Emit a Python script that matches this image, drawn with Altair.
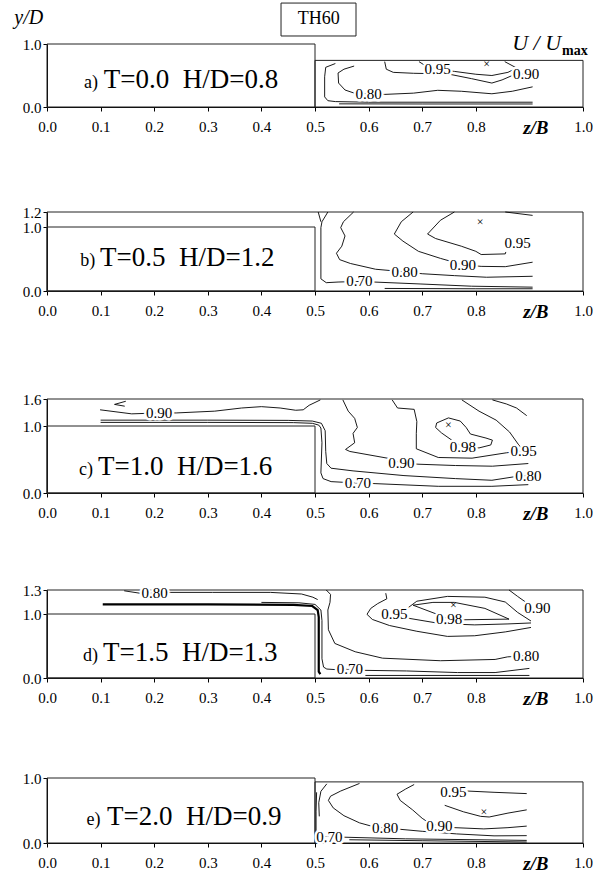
import altair as alt
import pandas as pd

SERIF = "Liberation Serif"

# ---------------- values ----------------
TAGS = ["a)", "b)", "c)", "d)", "e)"]
CASES = ["T=0.0\u00a0\u00a0H/D=0.8", "T=0.5\u00a0\u00a0H/D=1.2", "T=1.0\u00a0\u00a0H/D=1.6",
         "T=1.5\u00a0\u00a0H/D=1.3", "T=2.0\u00a0\u00a0H/D=0.9"]
Y_TOP = [1.0, 1.2, 1.6, 1.3, 1.0]
Y_TICKS = [[0.0, 1.0], [0.0, 1.0, 1.2], [0.0, 1.0, 1.6], [0.0, 1.0, 1.3], [0.0, 1.0]]
X_TICKS = [0.0, 0.1, 0.2, 0.3, 0.4, 0.5, 0.6, 0.7, 0.8, 1.0]
FRAME_Z0 = [0.5, 0.0, 0.0, 0.0, 0.5]
FRAME_TOP = [0.74, 1.2, 1.6, 1.3, 0.94]
BLOCK_Z = [0.0, 0.5]
BLOCK_Y = [0.0, 1.0]

# panel a contours (z/B, y/D)
A_070 = [(0.538, 0.69), (0.52, 0.63), (0.518, 0.48), (0.518, 0.16), (0.524, 0.10),
         (0.538, 0.086), (0.60, 0.076), (0.75, 0.076), (0.906, 0.076)]
A_060 = [(0.545, 0.05), (0.70, 0.048), (0.906, 0.048)]
A_080 = [(0.573, 0.65), (0.554, 0.60), (0.543, 0.54), (0.544, 0.38), (0.556, 0.27),
         (0.575, 0.215), (0.63, 0.20), (0.684, 0.22), (0.729, 0.265), (0.773, 0.25),
         (0.83, 0.21), (0.868, 0.25), (0.906, 0.32)]
A_090 = [(0.63, 0.72), (0.633, 0.60), (0.646, 0.55), (0.684, 0.535), (0.748, 0.525),
         (0.792, 0.45), (0.83, 0.38), (0.849, 0.43), (0.868, 0.50), (0.89, 0.53)]
A_095 = [(0.694, 0.72), (0.705, 0.66), (0.729, 0.60), (0.76, 0.565), (0.80, 0.52),
         (0.83, 0.50), (0.86, 0.55), (0.876, 0.62), (0.854, 0.72)]
A_LABELS = [("0.80", 0.60, 0.21), ("0.90", 0.894, 0.53), ("0.95", 0.729, 0.60)]
A_MAX = (0.82, 0.69)

# panel b contours
B_FORK = [(0.506, 1.2), (0.511, 1.07)]
B_070 = [(0.524, 1.2), (0.513, 1.07), (0.511, 0.99), (0.511, 0.19), (0.521, 0.13),
         (0.543, 0.14), (0.583, 0.15), (0.61, 0.14), (0.696, 0.11), (0.792, 0.075),
         (0.906, 0.06)]
B_060 = [(0.63, 0.04), (0.80, 0.035), (0.906, 0.035)]
B_080 = [(0.572, 1.2), (0.553, 1.07), (0.548, 0.99), (0.556, 0.86), (0.55, 0.70),
         (0.54, 0.59), (0.546, 0.49), (0.566, 0.43), (0.613, 0.34), (0.667, 0.30),
         (0.70, 0.27), (0.76, 0.24), (0.82, 0.215), (0.906, 0.23)]
B_090 = [(0.683, 1.2), (0.661, 1.07), (0.648, 0.89), (0.664, 0.78), (0.693, 0.62),
         (0.734, 0.51), (0.776, 0.41), (0.81, 0.385), (0.855, 0.38), (0.906, 0.45)]
B_095 = [(0.76, 1.2), (0.734, 1.09), (0.71, 0.89), (0.725, 0.82), (0.773, 0.70),
         (0.80, 0.62), (0.81, 0.57), (0.855, 0.58), (0.856, 0.61)]
B_095_TOP = [(0.855, 1.2), (0.906, 1.155)]
B_LABELS = [("0.70", 0.583, 0.15), ("0.80", 0.667, 0.30), ("0.90", 0.776, 0.41),
            ("0.95", 0.878, 0.75)]
B_MAX = (0.808, 1.07)

# panel c contours
C_080 = [(0.10, 1.13), (0.30, 1.13), (0.45, 1.125), (0.495, 1.11), (0.512, 1.06),
         (0.519, 0.93), (0.52, 0.62), (0.522, 0.44), (0.53, 0.37), (0.571, 0.33),
         (0.666, 0.26), (0.762, 0.215), (0.83, 0.19), (0.87, 0.24), (0.898, 0.26)]
C_070 = [(0.10, 1.08), (0.30, 1.08), (0.46, 1.075), (0.495, 1.06), (0.507, 1.02),
         (0.511, 0.97), (0.513, 0.75), (0.511, 0.30), (0.515, 0.215), (0.53, 0.17),
         (0.552, 0.16), (0.58, 0.15), (0.612, 0.14), (0.73, 0.10), (0.83, 0.10),
         (0.898, 0.125)]
C_090A = [(0.099, 1.36), (0.158, 1.27), (0.209, 1.29), (0.241, 1.29), (0.313, 1.33),
          (0.363, 1.40), (0.40, 1.43), (0.435, 1.40), (0.464, 1.35), (0.478, 1.36),
          (0.489, 1.46), (0.51, 1.58)]
C_TOPLEFT = [(0.147, 1.55), (0.126, 1.48), (0.145, 1.44)]
C_090B = [(0.552, 1.58), (0.562, 1.33), (0.574, 1.17), (0.579, 0.978), (0.571, 0.89),
          (0.574, 0.75), (0.557, 0.65), (0.565, 0.62), (0.635, 0.52), (0.661, 0.45),
          (0.692, 0.43), (0.762, 0.41), (0.831, 0.40), (0.898, 0.44)]
C_095 = [(0.644, 1.58), (0.654, 1.40), (0.685, 1.37), (0.69, 1.10), (0.689, 0.89),
         (0.689, 0.66), (0.73, 0.53), (0.793, 0.52), (0.857, 0.60), (0.889, 0.63),
         (0.879, 0.73), (0.863, 0.91), (0.838, 1.13), (0.806, 1.33), (0.774, 1.58)]
C_098 = [(0.749, 1.18), (0.727, 1.067), (0.725, 0.978), (0.736, 0.897), (0.755, 0.79),
         (0.776, 0.686), (0.806, 0.673), (0.828, 0.717), (0.831, 0.789), (0.819, 0.82),
         (0.79, 0.88), (0.782, 0.978), (0.771, 1.11), (0.749, 1.18)]
C_090C = [(0.831, 1.58), (0.857, 1.49), (0.876, 1.40), (0.895, 1.23)]
C_LABELS = [("0.90", 0.209, 1.29), ("0.90", 0.661, 0.45), ("0.98", 0.776, 0.686),
            ("0.95", 0.889, 0.63), ("0.80", 0.898, 0.26), ("0.70", 0.58, 0.15)]
C_MAX = (0.749, 1.03)

# panel d contours
D_080A = [(0.144, 1.29), (0.173, 1.26), (0.201, 1.26), (0.23, 1.27), (0.309, 1.27),
          (0.417, 1.27), (0.475, 1.25), (0.496, 1.21), (0.505, 1.18)]
D_080B = [(0.521, 1.30), (0.529, 1.245), (0.528, 1.146), (0.524, 1.05), (0.525, 0.754),
          (0.537, 0.54), (0.575, 0.41), (0.626, 0.31), (0.734, 0.27), (0.836, 0.29),
          (0.859, 0.33), (0.894, 0.35)]
D_WALL = [(0.104, 1.12), (0.30, 1.12), (0.46, 1.115), (0.495, 1.10), (0.505, 1.05),
          (0.507, 0.95), (0.507, 0.10), (0.51, 0.06)]
D_070 = [(0.40, 1.145), (0.47, 1.14), (0.50, 1.12), (0.511, 1.05), (0.513, 0.90),
         (0.513, 0.30), (0.516, 0.17), (0.522, 0.14), (0.54, 0.13), (0.565, 0.14),
         (0.588, 0.12), (0.671, 0.11), (0.766, 0.085), (0.836, 0.085), (0.90, 0.15)]
D_060 = [(0.594, 0.04), (0.75, 0.04), (0.90, 0.04)]
D_090 = [(0.632, 1.26), (0.634, 1.19), (0.617, 1.13), (0.604, 1.07), (0.597, 0.995),
         (0.607, 0.915), (0.639, 0.82), (0.69, 0.73), (0.747, 0.65), (0.798, 0.66),
         (0.855, 0.72), (0.903, 0.79)]
D_090R = [(0.862, 1.30), (0.878, 1.22), (0.897, 1.13)]
D_095T = [(0.648, 1.0), (0.67, 1.06), (0.69, 1.16), (0.747, 1.22), (0.817, 1.21),
          (0.855, 1.15), (0.878, 1.02), (0.903, 0.89)]
D_095B = [(0.648, 1.0), (0.677, 0.93), (0.734, 0.85), (0.798, 0.83), (0.86, 0.845),
          (0.903, 0.86)]
D_098 = [(0.683, 1.11), (0.72, 1.145), (0.76, 1.145), (0.817, 1.07), (0.862, 0.92),
         (0.779, 0.91), (0.75, 0.92), (0.728, 0.995), (0.683, 1.11)]
D_LABELS = [("0.80", 0.201, 1.26), ("0.95", 0.648, 1.0), ("0.98", 0.75, 0.92),
            ("0.90", 0.915, 1.08), ("0.80", 0.894, 0.35), ("0.70", 0.565, 0.14)]
D_MAX = (0.758, 1.11)

# panel e contours
E_WALL = [(0.522, 0.91), (0.511, 0.795), (0.507, 0.62), (0.508, 0.41)]
E_070 = [(0.503, 0.78), (0.502, 0.49), (0.502, 0.17), (0.504, 0.10), (0.527, 0.10),
         (0.551, 0.09), (0.669, 0.064), (0.895, 0.04)]
E_060 = [(0.564, 0.05), (0.70, 0.035), (0.895, 0.015)]
E_080 = [(0.583, 0.916), (0.548, 0.80), (0.529, 0.72), (0.525, 0.655), (0.534, 0.54),
         (0.554, 0.42), (0.583, 0.31), (0.605, 0.26), (0.631, 0.227), (0.66, 0.21),
         (0.70, 0.18), (0.764, 0.14), (0.834, 0.11), (0.895, 0.113)]
E_090 = [(0.685, 0.90), (0.669, 0.83), (0.653, 0.75), (0.659, 0.655), (0.682, 0.51),
         (0.70, 0.38), (0.71, 0.325), (0.732, 0.26), (0.761, 0.236), (0.815, 0.217),
         (0.86, 0.236), (0.895, 0.26)]
E_095 = [(0.758, 0.79), (0.783, 0.80), (0.834, 0.78), (0.895, 0.76)]
E_095B = [(0.742, 0.58), (0.777, 0.48), (0.809, 0.41), (0.825, 0.40), (0.86, 0.46),
          (0.895, 0.51)]
E_LABELS = [("0.70", 0.527, 0.10), ("0.80", 0.631, 0.227), ("0.90", 0.732, 0.26),
            ("0.95", 0.758, 0.79)]
E_MAX = (0.815, 0.47)

PANEL_LINES = [
    [A_070, A_060, A_080, A_090, A_095],
    [B_FORK, B_070, B_060, B_080, B_090, B_095, B_095_TOP],
    [C_080, C_070, C_090A, C_TOPLEFT, C_090B, C_095, C_098, C_090C],
    [D_080A, D_080B, D_070, D_060, D_090, D_090R, D_095T, D_095B, D_098],
    [E_WALL, E_070, E_060, E_080, E_090, E_095, E_095B],
]
PANEL_THICK = [[], [], [], [D_WALL], []]
PANEL_LABELS = [A_LABELS, B_LABELS, C_LABELS, D_LABELS, E_LABELS]
PANEL_MAX = [A_MAX, B_MAX, C_MAX, D_MAX, E_MAX]

# ---------------- layout (pixels) ----------------
WIDTH = 536
PANEL_H = [107, 184, 202, 185, 165]
Y_RANGE = [[107, 44], [184, 120, 105], [202, 135, 108], [185, 121, 97], [165, 100]]
TAG_Z = [(0.095, 0.106), (0.090, 0.099), (0.086, 0.095), (0.095, 0.1045), (0.100, 0.112)]
TAG_PX_ABOVE0 = [19, 25, 18, 17, 18]


def lines_df(pieces):
    rows = []
    for k, pts in enumerate(pieces):
        for j, (z, y) in enumerate(pts):
            rows.append({"id": k, "i": j, "z": z, "y": y})
    return pd.DataFrame(rows)


def build_panel(p):
    rng = Y_RANGE[p]
    dom = [0.0, 1.0] if len(rng) == 2 else [0.0, 1.0, Y_TOP[p]]
    ppu = rng[0] - rng[1]
    xs = alt.Scale(domain=[0.0, 1.0], nice=False, zero=False)
    ys = alt.Scale(domain=dom, range=rng, nice=False, zero=False)
    common = dict(title=None, grid=False, tickSize=4, labelFont=SERIF, labelFontSize=15,
                  labelColor="black", domainColor="black", tickColor="black",
                  labelOverlap=False, labelFlush=False, format=".1f")
    xax = alt.Axis(values=X_TICKS, labelPadding=8, **common)
    yax = alt.Axis(values=Y_TICKS[p], labelPadding=2, **common)

    def X(f):
        return alt.X(f"{f}:Q", scale=xs, axis=xax)

    def Y(f):
        return alt.Y(f"{f}:Q", scale=ys, axis=yax)

    rects = pd.DataFrame({
        "z0": [BLOCK_Z[0], FRAME_Z0[p]], "z1": [BLOCK_Z[1], 1.0],
        "y0": [BLOCK_Y[0], 0.0], "y1": [BLOCK_Y[1], FRAME_TOP[p]],
    })
    frame = alt.Chart(rects).mark_rect(fillOpacity=0, stroke="#222", strokeWidth=1).encode(
        x=X("z0"), x2="z1", y=Y("y0"), y2="y1")

    layers = [frame]
    layers.append(alt.Chart(lines_df(PANEL_LINES[p])).mark_line(
        color="black", strokeWidth=0.9).encode(
        x=X("z"), y=Y("y"), detail="id:N", order="i:Q"))
    if PANEL_THICK[p]:
        layers.append(alt.Chart(lines_df(PANEL_THICK[p])).mark_line(
            color="black", strokeWidth=2.2).encode(
            x=X("z"), y=Y("y"), detail="id:N", order="i:Q"))

    lab = pd.DataFrame(PANEL_LABELS[p], columns=["t", "z", "y"])
    layers.append(alt.Chart(lab).mark_text(
        font=SERIF, fontSize=15, fill="white", stroke="white", strokeWidth=5).encode(
        x=X("z"), y=Y("y"), text="t:N"))
    layers.append(alt.Chart(lab).mark_text(
        font=SERIF, fontSize=15, color="black").encode(x=X("z"), y=Y("y"), text="t:N"))

    mx = pd.DataFrame({"z": [PANEL_MAX[p][0]], "y": [PANEL_MAX[p][1]]})
    layers.append(alt.Chart(mx).mark_text(text="×", font=SERIF, fontSize=12,
                                          color="black").encode(x=X("z"), y=Y("y")))

    ty = TAG_PX_ABOVE0[p] / ppu
    tag = pd.DataFrame({"z": [TAG_Z[p][0]], "y": [ty], "t": [TAGS[p]]})
    case = pd.DataFrame({"z": [TAG_Z[p][1]], "y": [ty], "t": [CASES[p]]})
    layers.append(alt.Chart(tag).mark_text(font=SERIF, fontSize=18, align="right",
                                           baseline="alphabetic", color="black").encode(
        x=X("z"), y=Y("y"), text="t:N"))
    layers.append(alt.Chart(case).mark_text(font=SERIF, fontSize=27, align="left",
                                            baseline="alphabetic", color="black").encode(
        x=X("z"), y=Y("y"), text="t:N"))

    zb = pd.DataFrame({"z": [0.912], "y": [-21.0 / ppu]})
    layers.append(alt.Chart(zb).mark_text(text="z/B", font=SERIF, fontSize=19,
                                          fontStyle="italic", fontWeight="bold",
                                          color="black").encode(x=X("z"), y=Y("y")))

    if p == 0:
        box = pd.DataFrame({"z0": [0.4366], "z1": [0.5765], "y0": [1.127], "y1": [1.65]})
        layers.append(alt.Chart(box).mark_rect(fillOpacity=0, stroke="#222",
                                               strokeWidth=1).encode(
            x=X("z0"), x2="z1", y=Y("y0"), y2="y1"))
        ann = pd.DataFrame({"z": [0.507], "y": [1.39]})
        layers.append(alt.Chart(ann).mark_text(text="TH60", font=SERIF, fontSize=18,
                                               color="black").encode(x=X("z"), y=Y("y")))
        yd = pd.DataFrame({"z": [-0.034], "y": [1.41]})
        layers.append(alt.Chart(yd).mark_text(text="y/D", font=SERIF, fontSize=20,
                                              fontStyle="italic", color="black").encode(
            x=X("z"), y=Y("y")))
        uu = pd.DataFrame({"z": [0.959], "y": [0.905]})
        layers.append(alt.Chart(uu).mark_text(text="U / U", font=SERIF, fontSize=22,
                                              fontStyle="italic", align="right",
                                              baseline="alphabetic", color="black").encode(
            x=X("z"), y=Y("y")))
        mxs = pd.DataFrame({"z": [0.961], "y": [0.825]})
        layers.append(alt.Chart(mxs).mark_text(text="max", font=SERIF, fontSize=14,
                                               fontWeight="bold", align="left",
                                               baseline="alphabetic", color="black").encode(
            x=X("z"), y=Y("y")))

    return alt.layer(*layers).properties(width=WIDTH, height=PANEL_H[p])


chart = alt.vconcat(*[build_panel(p) for p in range(5)], spacing=0, bounds="flush")
chart = chart.resolve_scale(x="independent", y="independent").configure_view(
    strokeWidth=0).properties(padding={"left": 14, "top": 0, "right": 0, "bottom": 0})

chart.save("out.html", embed_options={"renderer": "svg", "actions": False})
